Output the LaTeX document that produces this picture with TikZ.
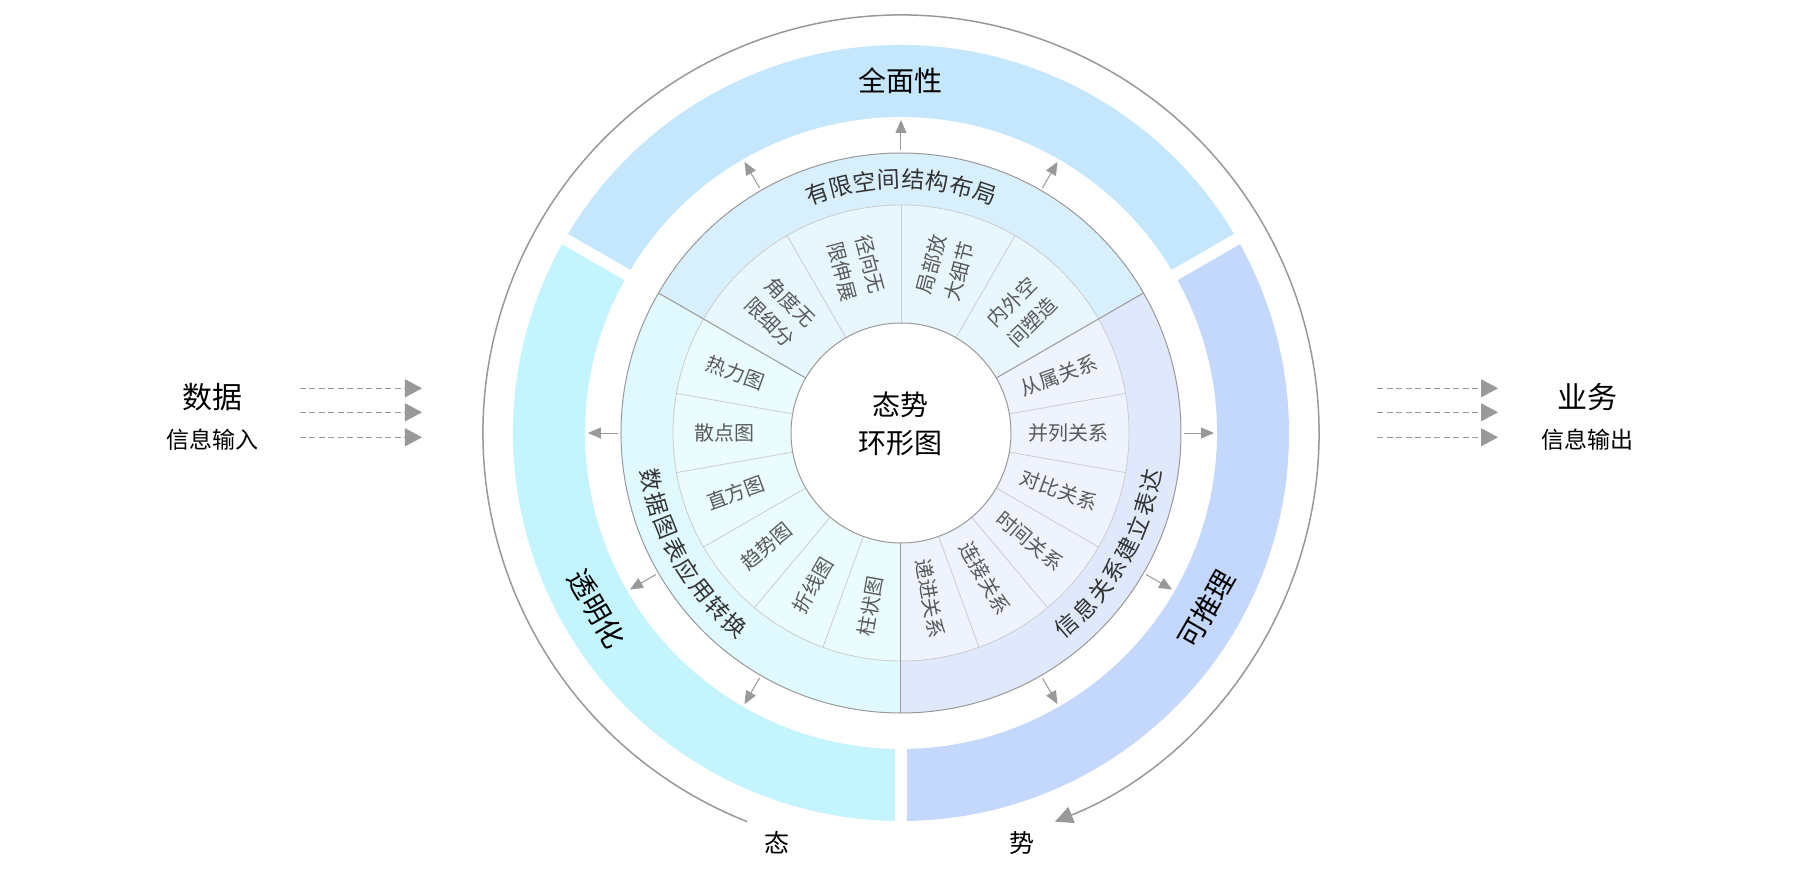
\documentclass[tikz,border=0pt]{standalone}
\usepackage{fontspec}
\setmainfont{Noto Sans CJK SC}
\usetikzlibrary{arrows.meta}
\definecolor{bandTop}{HTML}{C4E7FD}
\definecolor{bandLeft}{HTML}{C4F4FD}
\definecolor{bandRight}{HTML}{C4D7FD}
\definecolor{catTop}{HTML}{D8EFFD}
\definecolor{catLeft}{HTML}{E0F9FE}
\definecolor{catRight}{HTML}{E0E9FC}
\definecolor{itemTop}{HTML}{E8F6FE}
\definecolor{itemLeft}{HTML}{EBFCFE}
\definecolor{itemRight}{HTML}{EEF3FE}
\definecolor{lineGray}{HTML}{999999}
\definecolor{lightGray}{HTML}{CCCCCC}
\definecolor{arrowGray}{HTML}{999999}
\definecolor{itemGray}{HTML}{5A5A5A}
\definecolor{catGray}{HTML}{333333}
\newcommand{\annsec}[5]{% colour, a1, a2, r1, r2
  \fill[#1] (#2:#5) arc[start angle=#2, end angle=#3, radius=#5] -- (#3:#4) arc[start angle=#3, end angle=#2, radius=#4] -- cycle;}
\newcommand{\bandsec}[3]{% colour, a1, a2
  \fill[#1] ({#2+asin(6/388)}:388pt) arc[start angle={#2+asin(6/388)}, end angle={#3-asin(6/388)}, radius=388pt]
   -- ({#3-asin(6/316)}:316pt) arc[start angle={#3-asin(6/316)}, end angle={#2+asin(6/316)}, radius=316pt] -- cycle;}
\tikzset{
  itemtext/.style={text=itemGray, font=\fontsize{20pt}{29pt}\selectfont, align=center, inner sep=0pt},
  cattext/.style={text=catGray, font=\fontsize{23pt}{26pt}\selectfont, inner sep=0pt},
  bandtext/.style={text=black, font=\fontsize{28pt}{32pt}\selectfont, inner sep=0pt},
  centertext/.style={text=black, font=\fontsize{28pt}{38pt}\selectfont, align=center, inner sep=0pt},
  sidebig/.style={text=black, font=\fontsize{30pt}{34pt}\selectfont, inner sep=0pt},
  sidesmall/.style={text=black, font=\fontsize{23pt}{26pt}\selectfont, inner sep=0pt},
  endtext/.style={text=black, font=\fontsize{25pt}{28pt}\selectfont, inner sep=0pt},
  gaparrow/.style={color=arrowGray, line width=1pt, -{Triangle[length=13pt,width=11pt]}},
  dasharrow/.style={color=arrowGray, line width=1.3pt, dash pattern=on 6pt off 3.5pt, -{Triangle[length=17pt,width=18pt]}},
  bigarc/.style={color=arrowGray, line width=1.5pt, -{Triangle[length=18pt,width=17pt]}},
  ringline/.style={draw=lineGray, line width=1pt},
  itemline/.style={draw=lightGray, line width=0.8pt}
}
\begin{document}
\begin{tikzpicture}[x=1pt,y=1pt]
\useasboundingbox[fill=white] (-901,-435) rectangle (899,433);
% outer bands
\bandsec{bandTop}{30}{150}
\bandsec{bandLeft}{150}{270}
\bandsec{bandRight}{270}{390}
% category ring
\annsec{catTop}{30}{150}{228pt}{280pt}
\annsec{catLeft}{150}{270}{228pt}{280pt}
\annsec{catRight}{270}{390}{228pt}{280pt}
% item ring
\annsec{itemTop}{30}{150}{110pt}{228pt}
\annsec{itemLeft}{150}{270}{110pt}{228pt}
\annsec{itemRight}{270}{390}{110pt}{228pt}
% item dividers
\foreach \a in {60,90,120,170,190,210,230,250,290,310,330,350,370}
  \draw[itemline] (\a:110pt) -- (\a:228pt);
\draw[itemline] (0,0) circle[radius=228pt];
% main dividers
\foreach \a in {30,150,270}
  \draw[ringline] (\a:110pt) -- (\a:280pt);
\draw[ringline] (0,0) circle[radius=280pt];
\draw[ringline, fill=white] (0,0) circle[radius=110pt];
% centre
\node[centertext] (ctr) at (0,9) {态势\\环形图};
% item texts
\node[itemtext, rotate=45] (i45) at (45:171pt) {内外空\\间塑造};
\node[itemtext, rotate=75] (i75) at (75:171pt) {局部放\\大细节};
\node[itemtext, rotate=-75] (i105) at (105:171pt) {径向无\\限伸展};
\node[itemtext, rotate=-45] (i135) at (135:171pt) {角度无\\限细分};
\foreach \a/\t in {160/热力图,180/散点图,200/直方图,220/趋势图,240/折线图,260/柱状图}
  \node[itemtext, rotate=\a-180] (i\a) at (\a:176pt) {\t};
\foreach \a/\t in {20/从属关系,0/并列关系,-20/对比关系,-40/时间关系,-60/连接关系,-80/递进关系}
  \node[itemtext, rotate=\a] (j\a) at (\a:168pt) {\t};
% category labels
\foreach \c [count=\i from 0] in {有,限,空,间,结,构,布,局} {
  \pgfmathsetmacro\ang{90+(3.5-\i)*5.5}
  \node[cattext, rotate=\ang-90] (ct\i) at (\ang:254pt) {\c};
}
\foreach \c [count=\i from 0] in {数,据,图,表,应,用,转,换} {
  \pgfmathsetmacro\ang{210+(\i-3.5)*5.5}
  \node[cattext, rotate=\ang+90] (cl\i) at (\ang:254pt) {\c};
}
\foreach \c [count=\i from 0] in {信,息,关,系,建,立,表,达} {
  \pgfmathsetmacro\ang{330+(\i-3.5)*5.5}
  \node[cattext, rotate=\ang+90] (cr\i) at (\ang:254pt) {\c};
}
% gap arrows
\foreach \a in {0,60,90,120,180,210,240,300,330} {
  \coordinate (gs\a) at (\a:283pt);
  \coordinate (ge\a) at (\a:313pt);
  \draw[gaparrow] (gs\a) -- (ge\a);
}
% band labels
\node[bandtext] (bt) at (90:352pt) {全面性};
\node[bandtext, rotate=-60] (bl) at (210:352pt) {透明化};
\node[bandtext, rotate=60] (br) at (330:352pt) {可推理};
% outer arc
\coordinate (arcS) at (248.4:418pt);
\draw[bigarc] (arcS) arc[start angle=248.4, end angle=-68.4, radius=418pt];
\node[endtext] (tai) at (-124,-410) {态};
\node[endtext] (shi) at (121,-410) {势};
% side texts
\node[sidebig] (shuju) at (-688,36) {数据};
\node[sidesmall] (sxin) at (-688,-7) {信息输入};
\node[sidebig] (yewu) at (686,36) {业务};
\node[sidesmall] (sxout) at (686,-7) {信息输出};
\foreach \y [count=\k] in {44.7,20.7,-4.3} {
  \coordinate (la\k) at (-601,\y);
  \coordinate (lb\k) at (-479,\y);
  \draw[dasharrow] (la\k) -- (lb\k);
  \coordinate (ra\k) at (476,\y);
  \coordinate (rb\k) at (597,\y);
  \draw[dasharrow] (ra\k) -- (rb\k);
}
\end{tikzpicture}
\end{document}
